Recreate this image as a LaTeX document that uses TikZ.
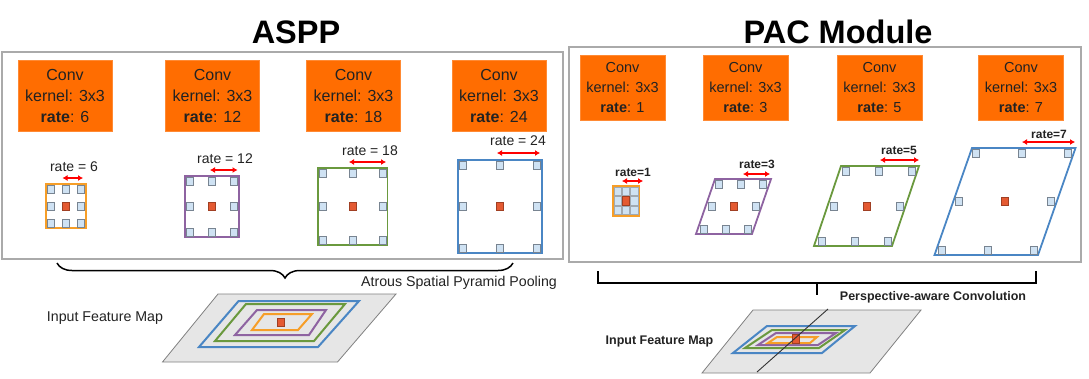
\documentclass[tikz,border=0pt]{standalone}
\usepackage{fontspec}
\setmainfont{Liberation Sans}
\usetikzlibrary{arrows.meta,decorations.pathreplacing}
\definecolor{convorange}{RGB}{255,109,1}
\definecolor{txt}{RGB}{34,34,34}
\definecolor{korange}{RGB}{246,158,40}
\definecolor{kpurple}{RGB}{142,99,161}
\definecolor{kgreen}{RGB}{106,153,62}
\definecolor{kblue}{RGB}{74,134,196}
\definecolor{cellblue}{RGB}{207,226,243}
\definecolor{cellgray}{RGB}{120,132,145}
\definecolor{kredfill}{RGB}{228,90,50}
\definecolor{panelgray}{RGB}{170,170,170}
\definecolor{mapgray}{RGB}{230,230,230}

\begin{document}
\begin{tikzpicture}[x=1pt, y=-1pt,
	headline/.style={font=\fontsize{32.5}{36}\selectfont\bfseries, inner sep=0},
	convbox/.style={fill=convorange, draw=convorange!80, text=txt, align=center, inner sep=0,
		minimum width=94pt, minimum height=71pt, font=\fontsize{16}{21}\selectfont},
	pacbox/.style={convbox, minimum width=85pt, minimum height=65pt, font=\fontsize{14.5}{20}\selectfont},
	ratelbl/.style={text=txt, inner sep=0, font=\fontsize{14}{16}\selectfont},
	pacrate/.style={text=txt, inner sep=0, font=\fontsize{12}{14}\selectfont\bfseries},
	note/.style={text=txt, inner sep=0, font=\fontsize{14.2}{16}\selectfont},
	boldnote/.style={text=txt, inner sep=0, font=\fontsize{12.5}{14}\selectfont\bfseries},
	panel/.style={draw=panelgray, line width=1.2pt},
	kline/.style={line width=1.8pt},
	mapline/.style={line width=2pt},
	kcell/.style={fill=cellblue, draw=cellgray, line width=0.6pt},
	kred/.style={fill=kredfill, draw=kredfill!70!black, line width=0.6pt},
	dimarrow/.style={red, line width=1.6pt, {Latex[length=5pt,width=6pt]}-{Latex[length=5pt,width=6pt]}},
	brace/.style={decorate, decoration={brace, mirror, amplitude=15pt}, line width=1.5pt}]

	\useasboundingbox (0,0) rectangle (1089,378);

	\node[headline] (aspp) at (296,32) {ASPP};
	\node[headline] (pacm) at (838,32) {PAC Module};

	\draw[panel] (2,52) rectangle (563,259);
	\draw[panel] (569,47) rectangle (1081,262);

	\node[convbox] (c6)  at (65,95.5)  {Conv\\kernel: 3x3\\\textbf{rate}: 6};
	\node[convbox] (c12) at (212.5,95.5) {Conv\\kernel: 3x3\\\textbf{rate}: 12};
	\node[convbox] (c18) at (353.5,95.5) {Conv\\kernel: 3x3\\\textbf{rate}: 18};
	\node[convbox] (c24) at (499,95.5) {Conv\\kernel: 3x3\\\textbf{rate}: 24};

	\node[pacbox] (p1) at (622.5,87.5)  {Conv\\kernel: 3x3\\\textbf{rate}: 1};
	\node[pacbox] (p3) at (745.5,87.5)  {Conv\\kernel: 3x3\\\textbf{rate}: 3};
	\node[pacbox] (p5) at (879.5,87.5)  {Conv\\kernel: 3x3\\\textbf{rate}: 5};
	\node[pacbox] (p7) at (1021,87.5)   {Conv\\kernel: 3x3\\\textbf{rate}: 7};

	\foreach \xa/\ya/\xb/\yb/\col in {46/184/86/228/korange, 185/176/239/237/kpurple,
			318/168/387.5/245/kgreen, 458/160/542/253/kblue}{
		\draw[kline, draw=\col] (\xa,\ya) rectangle (\xb,\yb);
		\foreach \cu in {0,0.5,1}
			\foreach \cv in {0,0.5,1}
				\draw[kcell] ({\xa+5+\cu*(\xb-\xa-10)},{\ya+5+\cv*(\yb-\ya-10)}) +(-3.5,-3.8) rectangle +(3.5,3.8);
		\draw[kred] ({(\xa+\xb)/2},{(\ya+\yb)/2}) +(-3.5,-4) rectangle +(3.5,4);
	}

	\draw[kline, draw=korange] (613,186) rectangle (639,216);
	\foreach \cu in {0,1,2}
		\foreach \cv in {0,1,2}
			\draw[kcell, draw=cellgray!70, line width=0.5pt] ({614+\cu*8.2},{187+\cv*9.5}) rectangle ++(7.4,8.6);
	\draw[kred] (622.2,196.5) rectangle ++(7.4,8.6);

	\foreach \xa/\xb/\xc/\ya/\yb/\col in {715/771/696/179/234/kpurple, 841/919/814/166/246/kgreen,
			972/1075.5/934.5/148/255/kblue}{
		\draw[kline, draw=\col] (\xa,\ya) -- (\xb,\ya) -- ({\xb+\xc-\xa},\yb) -- (\xc,\yb) -- cycle;
		\foreach \cu in {0,0.5,1}
			\foreach \cv in {0,0.5,1}{
				\pgfmathsetmacro\su{(6+\cu*(\xb-\xa-12))/(\xb-\xa)}
				\pgfmathsetmacro\sv{(5+\cv*(\yb-\ya-10))/(\yb-\ya)}
				\draw[kcell] ({\xa+\su*(\xb-\xa)+\sv*(\xc-\xa)},{\ya+\sv*(\yb-\ya)}) +(-3.5,-3.8) rectangle +(3.5,3.8);
			}
		\draw[kred] ({(\xa+\xb)/2+(\xc-\xa)/2},{(\ya+\yb)/2}) +(-3.5,-4) rectangle +(3.5,4);
	}

	\foreach \xl/\xr/\ya/\lx/\ly/\r [count=\i] in {62.5/83/178/74/167/6, 210/237.5/170/225/159/12,
			349/386/162/370/151/18, 497/540/153/518/141/24}{
		\coordinate (al\i) at (\xl,\ya);
		\coordinate (ar\i) at (\xr,\ya);
		\draw[dimarrow] (al\i) -- (ar\i);
		\node[ratelbl] (rl\i) at (\lx,\ly) {rate = \r};
	}

	\foreach \xl/\xr/\ya/\lx/\ly/\r [count=\i] in {622/643/181/633/172/1, 743/770/174/757/164/3,
			880/919/160/899/150/5, 1022/1075/142/1049/134/7}{
		\coordinate (bl\i) at (\xl,\ya);
		\coordinate (br\i) at (\xr,\ya);
		\draw[dimarrow] (bl\i) -- (br\i);
		\node[pacrate] (pl\i) at (\lx,\ly) {rate=\r};
	}

	\coordinate (braceL) at (57,263);
	\coordinate (braceR) at (513,263);
	\draw[brace] (braceL) -- (braceR);
	\node[note] (atrous) at (459,283) {Atrous Spatial Pyramid Pooling};

	\coordinate (brkL) at (598,271);
	\coordinate (brkR) at (1036,271);
	\coordinate (brkM) at (817,283);
	\coordinate (brkS) at (817,295);
	\draw[line width=1.5pt] (brkL) |- (brkM) -| (brkR);
	\draw[line width=1.5pt] (brkM) -- (brkS);
	\node[boldnote] (persp) at (933,297) {Perspective-aware Convolution};

	\node[note] (ifm1) at (105,318) {Input Feature Map};
	\draw[fill=mapgray, draw=gray, line width=0.8pt] (218,294) -- (396,294) -- (337.5,362) -- (162.5,362) -- cycle;
	\draw[mapline, draw=kblue] (238.6,301) -- (359,301) -- (318,347) -- (199,347) -- cycle;
	\draw[mapline, draw=kgreen] (246,304) -- (345,304) -- (314,341) -- (215,341) -- cycle;
	\draw[mapline, draw=kpurple] (257,310) -- (326,310) -- (309,335) -- (235,335) -- cycle;
	\draw[mapline, draw=korange] (264,314) -- (312,314) -- (298,330) -- (252,330) -- cycle;
	\draw[kred] (277.5,318) rectangle (284.5,326);

	\node[boldnote] (ifm2) at (659.5,341) {Input Feature Map};
	\draw[fill=mapgray, draw=gray, line width=0.8pt] (753,310) -- (921,310) -- (870,373) -- (702,373) -- cycle;
	\draw[mapline, draw=kblue] (767,326) -- (855,326) -- (822,353) -- (733,353) -- cycle;
	\draw[mapline, draw=kgreen] (772,330) -- (845,330) -- (819,348) -- (745,348) -- cycle;
	\draw[mapline, draw=kpurple] (776,333) -- (836,333) -- (818,345) -- (758,345) -- cycle;
	\draw[mapline, draw=korange] (777,337) -- (817,337) -- (810,343) -- (768,343) -- cycle;
	\draw[kred] (792,334) rectangle (799,343);
	\coordinate (cutT) at (828,309);
	\coordinate (cutB) at (757,372);
	\draw[line width=0.9pt, black!80] (cutT) -- (cutB);
\end{tikzpicture}
\end{document}
